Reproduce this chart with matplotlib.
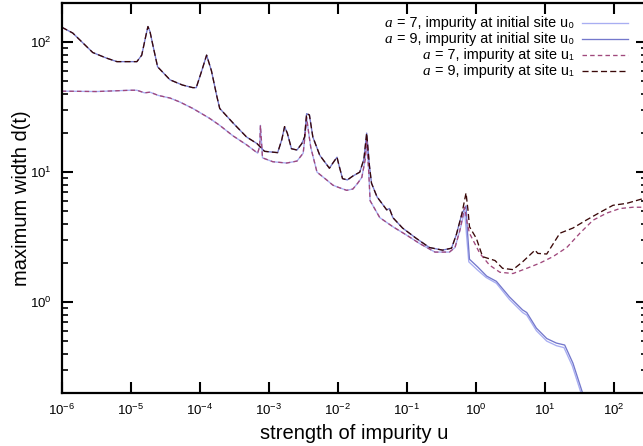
import numpy as np
import matplotlib
matplotlib.use("Agg")
import matplotlib.pyplot as plt
from matplotlib.lines import Line2D
from matplotlib.ticker import LogLocator, NullFormatter, NullLocator, FixedLocator, LogFormatterSciNotation

plt.rcParams['font.family'] = ['Liberation Sans', 'DejaVu Sans']
plt.rcParams['mathtext.fontset'] = 'custom'
plt.rcParams['mathtext.rm'] = 'Liberation Sans'
plt.rcParams['mathtext.it'] = 'Liberation Serif:italic'
plt.rcParams['mathtext.bf'] = 'Liberation Sans:bold'

# ---- data: log10(u) and log10(d) ----
# a = 9, common part (u0 and u1 coincide) for small u
a9_head_logu = [-6.0, -5.84, -5.55, -5.35, -5.2, -5.05, -4.91, -4.84, -4.78, -4.75, -4.72, -4.68,
                -4.61, -4.43, -4.25, -4.1, -4.05, -3.97, -3.9, -3.83, -3.75, -3.71, -3.52, -3.32,
                -3.17, -3.06, -2.87, -2.81, -2.77, -2.73, -2.67, -2.59, -2.52, -2.48, -2.45, -2.41,
                -2.36, -2.26, -2.12, -2.07, -2.01, -1.98, -1.93, -1.86, -1.78, -1.68, -1.62, -1.58,
                -1.54, -1.51, -1.43, -1.29, -1.25, -1.2, -1.06, -0.86, -0.67, -0.48, -0.35, -0.28, -0.2]
a9_head_logd = [2.115, 2.07, 1.92, 1.877, 1.85, 1.85, 1.85, 1.90, 2.05, 2.12, 2.08, 1.98,
                1.81, 1.71, 1.67, 1.65, 1.65, 1.78, 1.90, 1.78, 1.58, 1.49, 1.38, 1.27,
                1.22, 1.16, 1.15, 1.25, 1.35, 1.30, 1.18, 1.17, 1.22, 1.27, 1.45, 1.44,
                1.27, 1.13, 1.03, 1.07, 1.115, 1.05, 0.95, 0.94, 0.97, 1.0, 1.1, 1.3,
                1.05, 0.915, 0.81, 0.71, 0.72, 0.65, 0.57, 0.49, 0.42, 0.40, 0.415, 0.52, 0.68]

a9_u0_tail_logu = [-0.14, -0.12, -0.09, 0.03, 0.16, 0.3, 0.49, 0.68, 0.74, 0.88, 1.03, 1.17, 1.29, 1.41, 1.55, 1.7]
a9_u0_tail_logd = [0.74, 0.55, 0.33, 0.27, 0.20, 0.16, 0.04, -0.06, -0.08, -0.2, -0.28, -0.315, -0.33, -0.47, -0.7, -1.0]

a9_u1_tail_logu = [-0.14, -0.11, -0.09, 0.01, 0.1, 0.28, 0.39, 0.54, 0.68, 0.86, 0.9, 1.03, 1.22, 1.41, 1.6, 1.8, 1.99, 2.19, 2.45]
a9_u1_tail_logd = [0.84, 0.70, 0.58, 0.49, 0.35, 0.32, 0.26, 0.25, 0.31, 0.40, 0.375, 0.37, 0.53, 0.57, 0.63, 0.69, 0.745, 0.76, 0.80]

# a = 7, common part
a7_head_logu = [-6.0, -5.5, -5.0, -4.91, -4.8, -4.72, -4.6, -4.43, -4.29, -4.1, -3.86, -3.71, -3.52,
                -3.32, -3.16, -3.13, -3.12, -3.1, -3.09, -2.94, -2.74, -2.59, -2.5, -2.47, -2.45,
                -2.42, -2.39, -2.3, -2.16, -2.07, -2.0, -1.87, -1.78, -1.71, -1.65, -1.6, -1.58,
                -1.55, -1.53, -1.39, -1.2, -1.0, -0.81, -0.59, -0.38, -0.3, -0.23]
a7_head_logd = [1.623, 1.62, 1.63, 1.63, 1.61, 1.615, 1.59, 1.57, 1.54, 1.49, 1.415, 1.36, 1.28,
                1.21, 1.146, 1.2, 1.36, 1.2, 1.11, 1.08, 1.07, 1.085, 1.146, 1.3, 1.42,
                1.3, 1.19, 1.0, 0.94, 0.90, 0.885, 0.86, 0.87, 0.915, 0.96, 1.1, 1.25,
                1.0, 0.78, 0.65, 0.58, 0.515, 0.45, 0.385, 0.385, 0.42, 0.55]

a7_u0_tail_logu = [-0.16, -0.13, -0.1, 0.02, 0.15, 0.3, 0.49, 0.68, 0.74, 0.88, 1.03, 1.17, 1.28, 1.4, 1.54, 1.7]
a7_u0_tail_logd = [0.70, 0.50, 0.31, 0.25, 0.19, 0.145, 0.02, -0.08, -0.1, -0.22, -0.3, -0.335, -0.35, -0.49, -0.72, -1.0]

a7_u1_tail_logu = [-0.16, -0.12, -0.09, 0.06, 0.2, 0.35, 0.54, 0.74, 0.93, 1.12, 1.32, 1.51, 1.7, 1.9, 2.09, 2.28, 2.45]
a7_u1_tail_logd = [0.73, 0.60, 0.53, 0.375, 0.285, 0.23, 0.22, 0.26, 0.30, 0.35, 0.42, 0.53, 0.63, 0.685, 0.72, 0.73, 0.73]

x_tick_exponents = [-6, -5, -4, -3, -2, -1, 0, 1, 2]
y_tick_exponents = [0, 1, 2]

legend_symbol = ["a", "a", "a", "a"]
legend_rest = [" = 7, impurity at initial site u\u2080",
               " = 9, impurity at initial site u\u2080",
               " = 7, impurity at site u\u2081",
               " = 9, impurity at site u\u2081"]
colors = ["#a8aef2", "#7478cc", "#a0487c", "#3a0808"]
styles = ["-", "-", (0, (3.4, 2.4)), (0, (4.6, 2.4))]


def series(head_u, head_d, tail_u, tail_d):
    lu = np.concatenate([head_u, tail_u])
    ld = np.concatenate([head_d, tail_d])
    return 10.0 ** lu, 10.0 ** ld


data = [series(a7_head_logu, a7_head_logd, a7_u0_tail_logu, a7_u0_tail_logd),
        series(a9_head_logu, a9_head_logd, a9_u0_tail_logu, a9_u0_tail_logd),
        series(a7_head_logu, a7_head_logd, a7_u1_tail_logu, a7_u1_tail_logd),
        series(a9_head_logu, a9_head_logd, a9_u1_tail_logu, a9_u1_tail_logd)]

W, H = 643, 446
fig = plt.figure(figsize=(W / 100, H / 100), dpi=100)
ax = fig.add_axes([61.7 / W, 53 / H, (646.6 - 61.7) / W, 390 / H])

LW = 0.95
for (u, d), c, ls in zip(data, colors, styles):
    ax.plot(u, d, color=c, linestyle=ls, linewidth=LW)

ax.set_xscale('log')
ax.set_yscale('log')
ax.set_xlim(1e-6, 300)
ax.set_ylim(0.2, 200)

ax.xaxis.set_major_locator(FixedLocator([10.0 ** e for e in x_tick_exponents]))
ax.xaxis.set_major_formatter(LogFormatterSciNotation())
ax.xaxis.set_minor_locator(NullLocator())
ax.yaxis.set_major_locator(FixedLocator([10.0 ** e for e in y_tick_exponents]))
ax.yaxis.set_major_formatter(LogFormatterSciNotation())
ax.yaxis.set_minor_locator(LogLocator(base=10, subs=np.arange(2, 10), numticks=10))
ax.yaxis.set_minor_formatter(NullFormatter())

ax.tick_params(which='both', direction='in', top=True, right=True, labelsize=9.5, colors='black')
ax.tick_params(which='major', length=8, width=1.5, pad=7)
ax.tick_params(which='minor', length=4.2, width=1.2)
for s in ax.spines.values():
    s.set_linewidth(1.6)

ax.set_xlabel("strength of impurity u", fontsize=14.5)
ax.xaxis.set_label_coords(0.5, (393 - 424) / 390)
ax.xaxis.label.set_va('top')
ax.set_ylabel("maximum width d(t)", fontsize=14.5)
ax.yaxis.set_label_coords((31 - 61.7) / 584.9, 0.5)

# legend drawn in figure pixels (gnuplot-style: text right, sample on the right)
renderer = fig.canvas.get_renderer()
FS = 10.4
row_y = [22.5, 38.5, 54.5, 70.5]
for y, sym, rest, c, ls in zip(row_y, legend_symbol, legend_rest, colors, styles):
    fig.add_artist(Line2D([582 / W, 628 / W], [1 - y / H, 1 - y / H], transform=fig.transFigure,
                          color=c, linestyle=ls, linewidth=LW))
    yb = 1 - (y + 4.5) / H
    t = fig.text(574 / W, yb, rest, ha='right', va='baseline', fontsize=FS,
                 family=['Liberation Sans', 'DejaVu Sans'])
    bb = t.get_window_extent(renderer)
    fig.text((bb.x0 - 0.6) / W, yb, sym, ha='right', va='baseline', fontsize=FS + 0.6,
             family='Liberation Serif', style='italic')

fig.savefig("out.png", dpi=100)
